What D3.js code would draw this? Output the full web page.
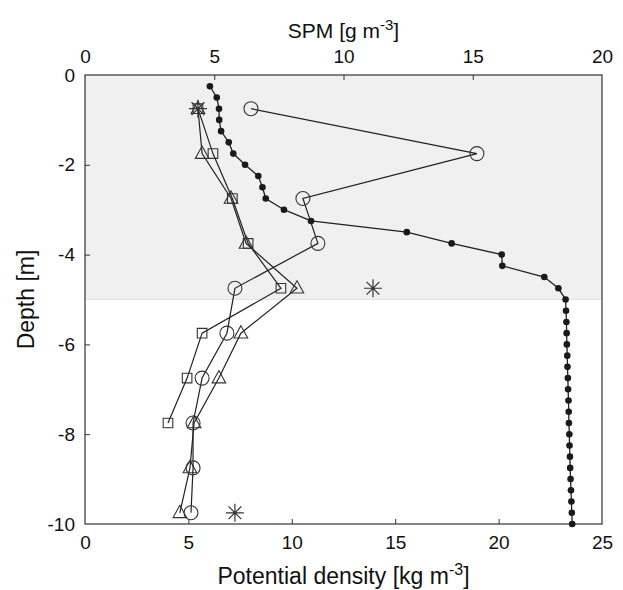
<!DOCTYPE html>
<html>
<head>
<meta charset="utf-8">
<script src="https://cdn.jsdelivr.net/npm/d3@7/dist/d3.min.js"></script>
<style>
  body { margin: 0; background: #fff; }
  text { font-family: "Liberation Sans", Arial, sans-serif; fill: #111; }
</style>
</head>
<body>
<div id="chart"></div>
<script>
// density profile (bottom axis), every 0.25 m
var densDepth = [-0.25, -0.5, -0.75, -1, -1.25, -1.5, -1.75, -2, -2.25, -2.5,
  -2.75, -3, -3.25, -3.5, -3.75, -4, -4.25, -4.5, -4.75, -5,
  -5.25, -5.5, -5.75, -6, -6.25, -6.5, -6.75, -7, -7.25, -7.5,
  -7.75, -8, -8.25, -8.5, -8.75, -9, -9.25, -9.5, -9.75, -10];
var density = [6.04, 6.37, 6.48, 6.49, 6.58, 6.95, 7.17, 7.74, 8.38, 8.58,
  8.74, 9.62, 10.93, 15.56, 17.73, 20.15, 20.18, 22.21, 22.89, 23.24,
  23.26, 23.28, 23.29, 23.30, 23.32, 23.33, 23.35, 23.36, 23.38, 23.39,
  23.40, 23.42, 23.43, 23.45, 23.46, 23.48, 23.50, 23.52, 23.54, 23.56];

// SPM profiles (top axis)
var spmDepth = [-0.75, -1.75, -2.75, -3.75, -4.75, -5.75, -6.75, -7.75, -8.75, -9.75];
var spmCircle = [6.42, 15.16, 8.43, 9.01, 5.80, 5.49, 4.53, 4.18, 4.18, 4.10];
var spmSquare = [4.37, 4.95, 5.70, 6.31, 7.58, 4.53, 3.95, 3.21];
var spmTriangle = [4.37, 4.53, 5.65, 6.23, 8.20, 6.03, 5.18, 4.22, 4.06, 3.67];
var starDepth = [-0.75, -4.75, -9.75];
var spmStar = [4.37, 11.14, 5.80];

var densTicks = [0, 5, 10, 15, 20, 25];
var spmTicks = [0, 5, 10, 15, 20];
var depthTicks = [0, -2, -4, -6, -8, -10];
var shadeDepth = [0, -5];

var W = 623, H = 590;
var margin = { top: 75, right: 21, bottom: 66, left: 85 };
var width = W - margin.left - margin.right,
  height = H - margin.top - margin.bottom;

var svg = d3.select('#chart').append('svg')
  .attr('width', W).attr('height', H);

var g = svg.append('g')
  .attr('transform', 'translate(' + margin.left + ',' + margin.top + ')');

var xD = d3.scaleLinear().domain([0, 25]).range([0, width]);
var xS = d3.scaleLinear().domain([0, 20]).range([0, width]);
var y = d3.scaleLinear().domain([0, -10]).range([0, height]);

// shaded surface layer
g.append('rect')
  .attr('x', 0).attr('y', y(shadeDepth[0]))
  .attr('width', width)
  .attr('height', y(shadeDepth[1]) - y(shadeDepth[0]))
  .attr('fill', '#f0f0f0');
g.append('line')
  .attr('x1', 0).attr('x2', width)
  .attr('y1', y(shadeDepth[1])).attr('y2', y(shadeDepth[1]))
  .attr('stroke', '#e2e2e2').attr('stroke-width', 1);

// axes, ticks inward, plain hyphen for minus
var fmt = function (d) { return String(d); };
var axB = g.append('g').attr('transform', 'translate(0,' + height + ')')
  .call(d3.axisBottom(xD).tickValues(densTicks).tickFormat(fmt).tickSize(-5).tickPadding(12));
var axT = g.append('g')
  .call(d3.axisTop(xS).tickValues(spmTicks).tickFormat(fmt).tickSize(-5).tickPadding(12));
var axL = g.append('g')
  .call(d3.axisLeft(y).tickValues(depthTicks).tickFormat(fmt).tickSize(-5).tickPadding(10));

[axB, axT, axL].forEach(function (a) {
  a.select('.domain').remove();
  a.selectAll('line').attr('stroke', '#333');
  a.selectAll('text').attr('font-size', 19).attr('fill', '#111')
    .style('font-family', '"Liberation Sans", Arial, sans-serif');
});
// no end ticks on the box edges
axB.selectAll('.tick').filter(function (d) { return d === 0 || d === 25; }).select('line').remove();
axT.selectAll('.tick').filter(function (d) { return d === 0 || d === 20; }).select('line').remove();
axL.selectAll('.tick').filter(function (d) { return d === 0 || d === -10; }).select('line').remove();

g.append('rect')
  .attr('width', width).attr('height', height)
  .attr('fill', 'none').attr('stroke', '#333').attr('stroke-width', 1.2);

var lineCol = '#222';

// density
var densData = density.map(function (v, i) { return [v, densDepth[i]]; });
g.append('path')
  .datum(densData)
  .attr('fill', 'none').attr('stroke', lineCol).attr('stroke-width', 1.3)
  .attr('d', d3.line().x(function (d) { return xD(d[0]); }).y(function (d) { return y(d[1]); }));
g.selectAll('circle.dens').data(densData).enter().append('circle')
  .attr('class', 'dens')
  .attr('cx', function (d) { return xD(d[0]); })
  .attr('cy', function (d) { return y(d[1]); })
  .attr('r', 3.3).attr('fill', '#1a1a1a');

function profile(vals, cls, marker) {
  var data = vals.map(function (v, i) { return [v, spmDepth[i]]; });
  g.append('path').datum(data)
    .attr('fill', 'none').attr('stroke', lineCol).attr('stroke-width', 1.2)
    .attr('d', d3.line().x(function (d) { return xS(d[0]); }).y(function (d) { return y(d[1]); }));
  g.selectAll('path.' + cls).data(data).enter().append('path')
    .attr('class', cls)
    .attr('transform', function (d) { return 'translate(' + xS(d[0]) + ',' + y(d[1]) + ')'; })
    .attr('d', marker)
    .attr('fill', 'none').attr('stroke', '#333').attr('stroke-width', 1.1);
}

profile(spmSquare, 'sq', 'M-4.8,-4.8H4.8V4.8H-4.8Z');
profile(spmTriangle, 'tri', 'M0,-7.5L6.8,4.8H-6.8Z');
profile(spmCircle, 'circ', 'M7,0A7,7 0 1,1 -7,0A7,7 0 1,1 7,0Z');

// asterisks (no connecting line)
var starData = spmStar.map(function (v, i) { return [v, starDepth[i]]; });
g.selectAll('path.star').data(starData).enter().append('path')
  .attr('class', 'star')
  .attr('transform', function (d) { return 'translate(' + xS(d[0]) + ',' + y(d[1]) + ')'; })
  .attr('d', 'M-9,0H9M0,-9V9M-6.4,-6.4L6.4,6.4M-6.4,6.4L6.4,-6.4')
  .attr('stroke', '#333').attr('stroke-width', 1.2);

// titles
var title = svg.append('text')
  .attr('x', margin.left + width / 2).attr('y', 584)
  .attr('text-anchor', 'middle').attr('font-size', 23);
title.append('tspan').text('Potential density [kg m');
title.append('tspan').attr('dy', -9).attr('font-size', 16).text('-3');
title.append('tspan').attr('dy', 9).text(']');

var topTitle = svg.append('text')
  .attr('x', margin.left + width / 2).attr('y', 38)
  .attr('text-anchor', 'middle').attr('font-size', 21);
topTitle.append('tspan').text('SPM [g m');
topTitle.append('tspan').attr('dy', -8).attr('font-size', 15).text('-3');
topTitle.append('tspan').attr('dy', 8).text(']');

svg.append('text')
  .attr('transform', 'translate(34,' + (margin.top + height / 2) + ') rotate(-90)')
  .attr('text-anchor', 'middle').attr('font-size', 23)
  .text('Depth [m]');
</script>
</body>
</html>
